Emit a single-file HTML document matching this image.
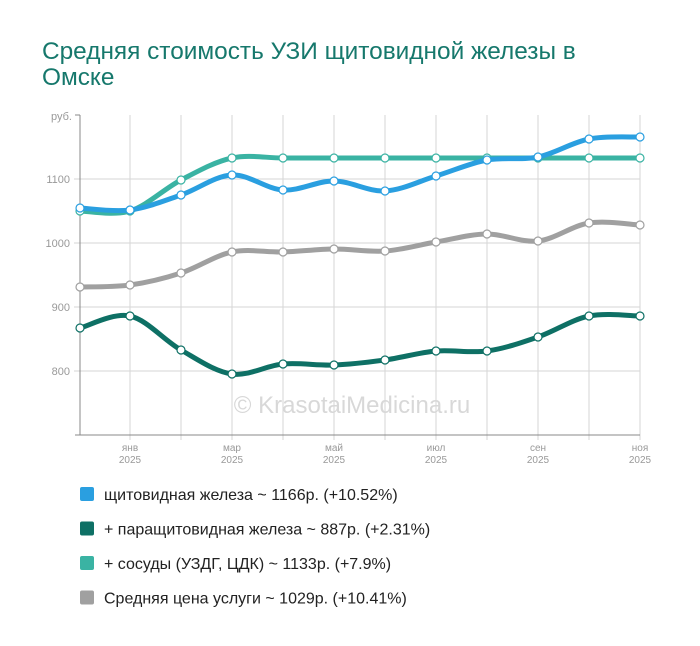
<!DOCTYPE html>
<html><head><meta charset="utf-8"><style>
body{margin:0;background:#fff;width:700px;height:646px;overflow:hidden;font-family:"Liberation Sans",sans-serif}
.t{position:absolute;left:42px;top:39px;font-size:24.4px;line-height:26px;color:#16786c}
</style></head><body>
<div class="t">Средняя стоимость УЗИ щитовидной железы в<br>Омске</div>
<svg id="s" width="700" height="646" style="position:absolute;left:0;top:0" font-family="Liberation Sans, sans-serif"></svg>
<script>
var s=document.getElementById('s'),h='';
var X=[80,130,181,232,283,334,385,436,487,538,589,640];
[179,243,307,371].forEach(function(y,i){h+='<line x1="74" x2="640" y1="'+y+'" y2="'+y+'" stroke="#d6d6d6"/>';h+='<text x="70" y="'+(y+4)+'" font-size="11" fill="#999" text-anchor="end">'+[1100,1000,900,800][i]+'</text>';});
X.slice(1).forEach(function(x){h+='<line x1="'+x+'" x2="'+x+'" y1="115" y2="440" stroke="#d6d6d6"/>';});
h+='<text x="72" y="120" font-size="11" fill="#999" text-anchor="end">руб.</text>';
h+='<line x1="80" x2="80" y1="115" y2="435" stroke="#888"/><line x1="75" x2="80" y1="115" y2="115" stroke="#888"/><line x1="75" x2="640" y1="435" y2="435" stroke="#888"/>';
var m=['янв','мар','май','июл','сен','ноя'];
m.forEach(function(t,i){var x=130+i*102;h+='<text x="'+x+'" y="451" font-size="10" fill="#999" text-anchor="middle">'+t+'</text><text x="'+x+'" y="463" font-size="10" fill="#999" text-anchor="middle">2025</text>';});
h+='<text x="352" y="413" font-size="24" fill="#d8d8d8" text-anchor="middle">© KrasotaiMedicina.ru</text>';
var S=[
['#a0a0a0',[287,285,273,252,252,249,251,242,234,241,223,225]],
['#0e7065',[328,316,350,374,364,365,360,351,351,337,316,316]],
['#3ab3a3',[211,211,180,158,158,158,158,158,158,158,158,158]],
['#2a9fe0',[208,210,195,175,190,181,191,176,160,157,139,137]]];
S.forEach(function(o){var Y=o[1],d='M'+X[0]+','+Y[0];
for(var i=0;i<11;i++){var p0=i?i-1:i,p3=i<10?i+2:i+1;
var c1x=X[i]+(X[i+1]-X[p0])/6,c1y=Y[i]+(Y[i+1]-Y[p0])/6,c2x=X[i+1]-(X[p3]-X[i])/6,c2y=Y[i+1]-(Y[p3]-Y[i])/6;
d+=' C'+c1x+','+c1y+' '+c2x+','+c2y+' '+X[i+1]+','+Y[i+1];}
h+='<path d="'+d+'" fill="none" stroke="'+o[0]+'" stroke-width="5"/>';
X.forEach(function(x,i){h+='<circle cx="'+x+'" cy="'+Y[i]+'" r="4" fill="#fff" stroke="'+o[0]+'" stroke-width="1.2"/>';});});
var L=[['#2a9fe0','щитовидная железа ~ 1166р. (+10.52%)'],['#0e7065','+ паращитовидная железа ~ 887р. (+2.31%)'],['#3ab3a3','+ сосуды (УЗДГ, ЦДК) ~ 1133р. (+7.9%)'],['#a0a0a0','Средняя цена услуги ~ 1029р. (+10.41%)']];
L.forEach(function(l,i){var y=494+i*34.5;h+='<rect x="80" y="'+(y-7)+'" width="14" height="14" rx="2" fill="'+l[0]+'"/><text x="104" y="'+(y+6)+'" font-size="16" fill="#222">'+l[1]+'</text>';});
s.innerHTML=h;
</script>
</body></html>
